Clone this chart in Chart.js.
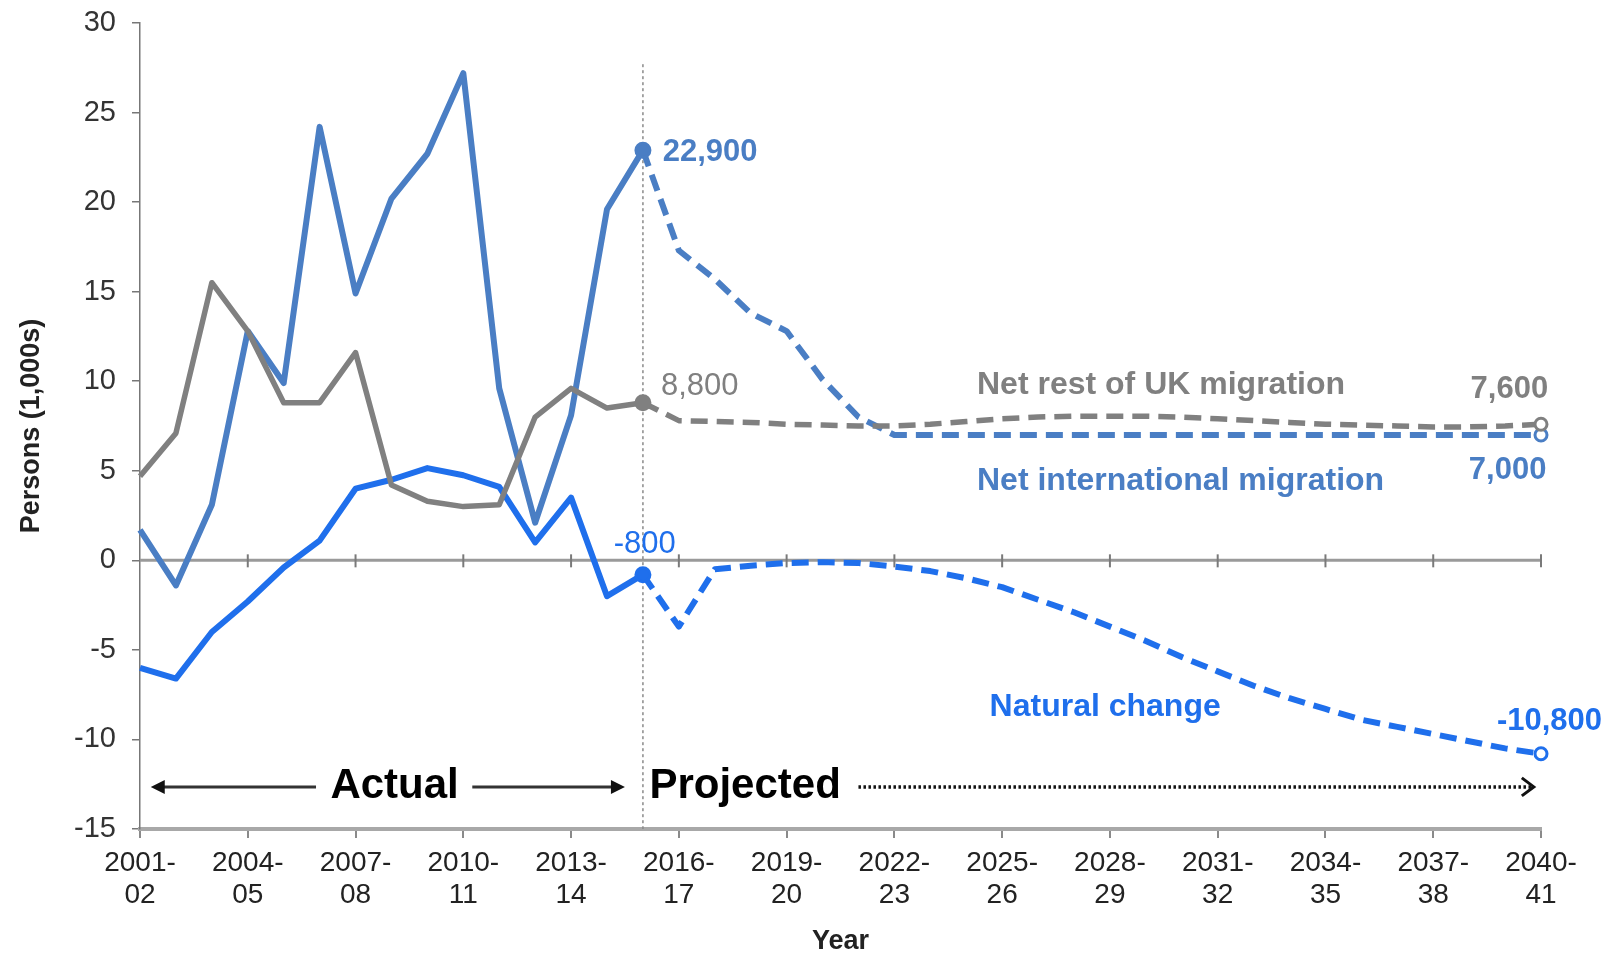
<!DOCTYPE html>
<html>
<head>
<meta charset="utf-8">
<script src="https://cdn.jsdelivr.net/npm/chart.js@4/dist/chart.umd.min.js"></script>
<style>
  html, body { margin: 0; padding: 0; background: #fff; }
  #wrap { width: 1609px; height: 958px; }
</style>
</head>
<body>
<div id="wrap"><canvas id="chart" width="1609" height="958"></canvas></div>
<script>
const years = [
  "2001-02", "2002-03", "2003-04", "2004-05", "2005-06", "2006-07", "2007-08", "2008-09",
  "2009-10", "2010-11", "2011-12", "2012-13", "2013-14", "2014-15", "2015-16", "2016-17",
  "2017-18", "2018-19", "2019-20", "2020-21", "2021-22", "2022-23", "2023-24", "2024-25",
  "2025-26", "2026-27", "2027-28", "2028-29", "2029-30", "2030-31", "2031-32", "2032-33",
  "2033-34", "2034-35", "2035-36", "2036-37", "2037-38", "2038-39", "2039-40", "2040-41",
];

// persons, thousands; actual up to 2015-16 (index 14), projected after
const netInternational = [
  1.7, -1.4, 3.1, 12.8, 9.9, 24.2, 14.9, 20.2, 22.7, 27.2, 9.6, 2.1, 8.1, 19.6, 22.9,
  17.3, 15.7, 13.8, 12.8, 10.1, 8.0, 7.0, 7.0, 7.0, 7.0, 7.0, 7.0, 7.0, 7.0, 7.0,
  7.0, 7.0, 7.0, 7.0, 7.0, 7.0, 7.0, 7.0, 7.0, 7.0,
];
const netRestOfUK = [
  4.7, 7.1, 15.5, 12.8, 8.8, 8.8, 11.6, 4.2, 3.3, 3.0, 3.1, 8.0, 9.6, 8.5, 8.8,
  7.8, 7.75, 7.7, 7.6, 7.55, 7.5, 7.5, 7.6, 7.75, 7.9, 8.0, 8.05, 8.05, 8.05, 8.0,
  7.9, 7.8, 7.7, 7.6, 7.55, 7.5, 7.45, 7.45, 7.5, 7.6,
];
const naturalChange = [
  -6.0, -6.6, -4.0, -2.3, -0.4, 1.1, 4.0, 4.5, 5.15, 4.75, 4.1, 1.0, 3.5, -2.0, -0.8,
  -3.7, -0.5, -0.3, -0.15, -0.1, -0.15, -0.35, -0.6, -1.0, -1.5, -2.2, -2.9, -3.7, -4.5, -5.4,
  -6.2, -7.0, -7.7, -8.3, -8.9, -9.3, -9.7, -10.1, -10.5, -10.8,
];

const lastActual = 14;
const yTicks = { min: -15, max: 30, step: 5 };

const GREY = "#808080";
const STEEL = "#4a7ec4";
const BRIGHT = "#1f6fec";
const FONT = "'Liberation Sans', Arial, sans-serif";

const markerRadius = (i) => (i === lastActual ? 7 : i === years.length - 1 ? 6 : 0);
const markerFill = (col) => (ctx) => (ctx.dataIndex === years.length - 1 ? "#fff" : col);

function series(label, data, color, width) {
  return {
    label: label,
    data: data,
    borderColor: color,
    backgroundColor: color,
    borderWidth: width,
    borderJoinStyle: "round",
    borderCapStyle: "butt",
    tension: 0,
    pointRadius: (ctx) => markerRadius(ctx.dataIndex),
    pointBackgroundColor: markerFill(color),
    pointBorderColor: color,
    pointBorderWidth: 3,
    segment: {
      borderDash: (ctx) => (ctx.p0DataIndex >= lastActual ? [17, 9] : undefined),
    },
  };
}

// text and arrows placed in data units (x = year index, y = persons 1,000s)
const notes = [
  { text: "22,900", x: 14.55, y: 22.75, color: STEEL, align: "left", size: 31 },
  { text: "8,800", x: 14.5, y: 9.7, color: GREY, align: "left", size: 31, weight: "normal" },
  { text: "-800", x: 14.05, y: 0.9, color: BRIGHT, align: "center", size: 31, weight: "normal" },
  { text: "Net rest of UK migration", x: 23.3, y: 9.8, color: GREY, align: "left", size: 32 },
  { text: "7,600", x: 39.2, y: 9.55, color: GREY, align: "right", size: 31 },
  { text: "Net international migration", x: 23.3, y: 4.4, color: STEEL, align: "left", size: 32 },
  { text: "7,000", x: 39.15, y: 5.0, color: STEEL, align: "right", size: 31 },
  { text: "Natural change", x: 23.65, y: -8.2, color: BRIGHT, align: "left", size: 32 },
  { text: "-10,800", x: 40.7, y: -9.0, color: BRIGHT, align: "right", size: 31 },
  { text: "Actual", x: 5.3, y: -12.65, color: "#000", align: "left", size: 42 },
  { text: "Projected", x: 14.18, y: -12.65, color: "#000", align: "left", size: 42 },
];
const arrows = [
  { from: 4.9, to: 0.3, y: -12.65, dotted: false },
  { from: 9.25, to: 13.5, y: -12.65, dotted: false },
  { from: 20.0, to: 38.8, y: -12.65, dotted: true },
];

const overlay = {
  id: "overlay",
  beforeDatasetsDraw(chart) {
    const { ctx, chartArea } = chart;
    const x = chart.scales.x;
    const y = chart.scales.y;
    const y0 = y.getPixelForValue(0);
    ctx.save();
    // zero line with crossing ticks
    ctx.strokeStyle = "#9a9a9a";
    ctx.lineWidth = 3;
    ctx.beginPath();
    ctx.moveTo(chartArea.left, y0);
    ctx.lineTo(chartArea.right, y0);
    ctx.stroke();
    ctx.lineWidth = 2;
    ctx.strokeStyle = "#7a7a7a";
    for (let i = 3; i < years.length; i += 3) {
      const px = x.getPixelForValue(i);
      ctx.beginPath();
      ctx.moveTo(px, y0 - 6);
      ctx.lineTo(px, y0 + 7);
      ctx.stroke();
    }
    // actual / projected divider
    const xd = x.getPixelForValue(lastActual);
    ctx.strokeStyle = "#8a8a8a";
    ctx.lineWidth = 1.5;
    ctx.setLineDash([3, 3]);
    ctx.beginPath();
    ctx.moveTo(xd, y.getPixelForValue(27.7));
    ctx.lineTo(xd, chartArea.bottom);
    ctx.stroke();
    ctx.restore();
  },
  afterDatasetsDraw(chart) {
    const { ctx } = chart;
    const x = chart.scales.x;
    const y = chart.scales.y;
    ctx.save();
    ctx.textBaseline = "middle";
    notes.forEach((n) => {
      ctx.font = `${n.weight || "bold"} ${n.size}px ${FONT}`;
      ctx.fillStyle = n.color;
      ctx.textAlign = n.align;
      ctx.fillText(n.text, x.getPixelForValue(n.x), y.getPixelForValue(n.y));
    });
    arrows.forEach((a) => {
      const x1 = x.getPixelForValue(a.from);
      const x2 = x.getPixelForValue(a.to);
      const py = y.getPixelForValue(a.y);
      const dir = Math.sign(x2 - x1);
      ctx.strokeStyle = a.dotted ? "#111" : "#333";
      ctx.fillStyle = "#111";
      ctx.lineWidth = a.dotted ? 3.5 : 3;
      ctx.setLineDash(a.dotted ? [2.5, 2.5] : []);
      ctx.beginPath();
      ctx.moveTo(x1, py);
      ctx.lineTo(x2 - dir * (a.dotted ? 2 : 8), py);
      ctx.stroke();
      ctx.setLineDash([]);
      if (a.dotted) {
        ctx.lineWidth = 3;
        ctx.beginPath();
        ctx.moveTo(x2 - dir * 12, py - 9);
        ctx.lineTo(x2, py);
        ctx.lineTo(x2 - dir * 12, py + 9);
        ctx.stroke();
      } else {
        ctx.beginPath();
        ctx.moveTo(x2, py);
        ctx.lineTo(x2 - dir * 14, py - 7);
        ctx.lineTo(x2 - dir * 14, py + 7);
        ctx.closePath();
        ctx.fill();
      }
    });
    ctx.restore();
  },
};

new Chart(document.getElementById("chart"), {
  type: "line",
  data: {
    labels: years,
    datasets: [
      series("Net rest of UK migration", netRestOfUK, GREY, 5.5),
      series("Natural change", naturalChange, BRIGHT, 6),
      series("Net international migration", netInternational, STEEL, 6),
    ],
  },
  options: {
    responsive: false,
    animation: false,
    layout: { padding: { left: 0, right: 68, top: 23, bottom: 0 } },
    plugins: {
      legend: { display: false },
      tooltip: { enabled: false },
    },
    scales: {
      x: {
        afterFit: (scale) => { scale.height = 129; },
        grid: {
          drawOnChartArea: false,
          tickLength: 9,
          lineWidth: 2,
          color: (ctx) => (ctx.index % 3 === 0 ? "#8a8a8a" : "rgba(0,0,0,0)"),
        },
        border: { display: true, color: "#a8a8a8", width: 4 },
        ticks: {
          autoSkip: false,
          maxRotation: 0,
          padding: 9,
          color: "#222",
          font: { family: FONT, size: 28, lineHeight: 1.15 },
          callback: function (value, index) {
            if (index % 3 !== 0) return "";
            const parts = years[index].split("-");
            return [parts[0] + "-", parts[1]];
          },
        },
        title: {
          display: true,
          text: "Year",
          color: "#222",
          font: { family: FONT, size: 27, weight: "bold" },
          padding: { top: 0, bottom: 0 },
        },
      },
      y: {
        min: yTicks.min,
        max: yTicks.max,
        afterFit: (scale) => {
          scale.width = 140;
          // let the top label overhang instead of pushing the plot down
          scale.paddingTop = 0;
          scale.paddingBottom = 0;
        },
        grid: { drawOnChartArea: false, tickLength: 8, color: "#777", lineWidth: 1.5 },
        border: { display: true, color: "#777", width: 1.5 },
        ticks: {
          stepSize: yTicks.step,
          padding: 16,
          color: "#333",
          font: { family: FONT, size: 29 },
        },
        title: {
          display: true,
          text: "Persons (1,000s)",
          color: "#222",
          font: { family: FONT, size: 27, weight: "bold" },
          padding: { top: 15, bottom: 0 },
        },
      },
    },
  },
  plugins: [overlay],
});
</script>
</body>
</html>
